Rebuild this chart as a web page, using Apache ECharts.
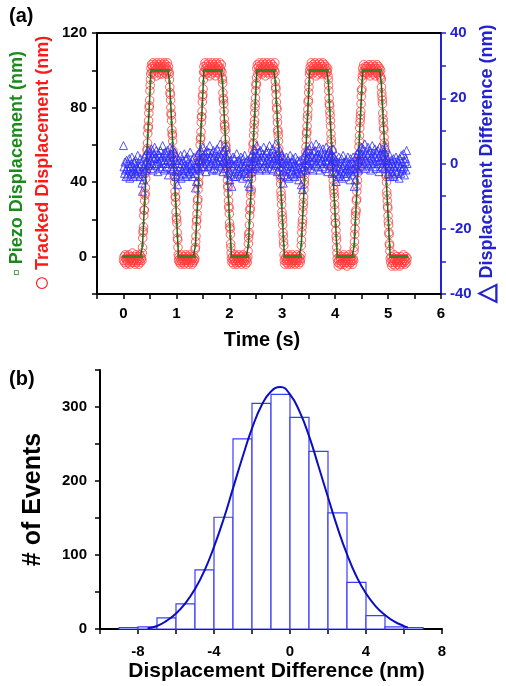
<!DOCTYPE html>
<html><head><meta charset="utf-8">
<script src="https://cdn.jsdelivr.net/npm/echarts@6/dist/echarts.min.js"></script>
<style>html,body{margin:0;padding:0;background:#fff}#chart{width:506px;height:686px}</style>
</head><body><div id="chart"></div>
<script>
// ---------- Panel (a): time series sampled every 10 ms ----------
const sampleStart = 0;
const sampleStep = 0.01;
const piezoDisplacement = [
0,0,0,0,0,0,0,0,0,0, 0,0,0,0,0,0,0,0,0,0, 0,0,0,0,0,0,0,0,0,0, 0,0,0,0,0,0,6,12,18,24,
29,35,41,47,53,59,65,71,76,82, 88,94,100,100,100,100,100,100,100,100, 100,100,100,100,100,100,100,100,100,100,
100,100,100,100,100,100,100,100,100,100, 100,100,100,100,100,100,100,94,89,83, 78,72,67,61,56,50,44,39,33,28,
22,17,11,6,0,0,0,0,0,0, 0,0,0,0,0,0,0,0,0,0, 0,0,0,0,0,0,0,0,0,0, 0,0,0,0,0,0,6,12,18,24,
29,35,41,47,53,59,65,71,76,82, 88,94,100,100,100,100,100,100,100,100, 100,100,100,100,100,100,100,100,100,100,
100,100,100,100,100,100,100,100,100,100, 100,100,100,100,100,100,100,94,89,83, 78,72,67,61,56,50,44,39,33,28,
22,17,11,6,0,0,0,0,0,0, 0,0,0,0,0,0,0,0,0,0, 0,0,0,0,0,0,0,0,0,0, 0,0,0,0,0,0,6,12,18,24,
29,35,41,47,53,59,65,71,76,82, 88,94,100,100,100,100,100,100,100,100, 100,100,100,100,100,100,100,100,100,100,
100,100,100,100,100,100,100,100,100,100, 100,100,100,100,100,100,100,94,89,83, 78,72,67,61,56,50,44,39,33,28,
22,17,11,6,0,0,0,0,0,0, 0,0,0,0,0,0,0,0,0,0, 0,0,0,0,0,0,0,0,0,0, 0,0,0,0,0,0,6,12,18,24,
29,35,41,47,53,59,65,71,76,82, 88,94,100,100,100,100,100,100,100,100, 100,100,100,100,100,100,100,100,100,100,
100,100,100,100,100,100,100,100,100,100, 100,100,100,100,100,100,100,94,89,83, 78,72,67,61,56,50,44,39,33,28,
22,17,11,6,0,0,0,0,0,0, 0,0,0,0,0,0,0,0,0,0, 0,0,0,0,0,0,0,0,0,0, 0,0,0,0,0,0,6,12,18,24,
29,35,41,47,53,59,65,71,76,82, 88,94,100,100,100,100,100,100,100,100, 100,100,100,100,100,100,100,100,100,100,
100,100,100,100,100,100,100,100,100,100, 100,100,100,100,100,100,100,94,89,83, 78,72,67,61,56,50,44,39,33,28,
22,17,11,6,0,0,0,0,0,0, 0,0,0,0,0,0,0,0,0,0, 0,0,0,0,0,0,0,0,0,0, 0,0,0,0,0,0,0
];
const trackedDisplacement = [
-2,0,-3,1,-1,-4,-2,0,-3,-1, 1,-2,-4,-1,0,-3,-2,2,-1,-3, -2,0,-4,-1,1,-3,-2,0,-1,-4, -2,1,-3,0,-1,-2,5,13,16,25,
30,34,42,46,54,58,66,70,77,81, 89,95,101,103,99,102,104,98,101,103, 100,102,97,104,101,99,103,102,98,101,
104,100,102,98,103,101,99,104,102,100, 103,98,101,104,100,102,99,95,88,84, 77,73,66,62,55,51,43,40,32,29,
21,18,10,5,-2,0,-3,-1,-4,-2, 1,-3,-1,-2,0,-4,-2,-1,1,-3, -2,0,-1,-4,-2,1,-3,-1,0,-2, -4,-1,-3,0,-2,-1,5,11,19,23,
30,36,40,48,52,60,64,72,75,83, 87,95,102,99,104,101,98,103,100,102, 99,104,101,97,103,100,102,98,104,101,
99,103,100,102,97,104,101,99,103,100, 102,98,104,101,100,103,99,95,88,84, 78,71,68,60,57,49,45,38,34,27,
23,16,12,5,-1,-3,0,-2,-4,-1, -2,1,-3,-1,-4,0,-2,-3,1,-1, -3,-2,0,-4,-1,-2,1,-3,-1,-2, 0,-4,-2,-1,-3,0,7,12,17,25,
29,35,42,47,53,60,65,71,77,82, 89,93,101,103,98,102,100,104,99,101, 103,100,98,102,104,99,101,103,97,102,
100,104,99,101,103,98,102,100,104,101, 99,103,101,98,102,100,104,94,90,83, 79,72,67,62,55,50,44,39,33,28,
22,17,11,6,-2,-4,-1,0,-3,-2, -1,-4,1,-2,-3,0,-1,-4,-2,1, -3,-1,-2,0,-4,-2,-1,-3,1,-2, -1,-4,0,-2,-3,-1,6,13,18,24,
29,36,41,46,53,59,66,70,76,83, 88,94,100,102,99,104,101,98,103,100, 102,99,104,101,97,103,100,102,98,101,
104,100,99,103,101,98,102,104,100,99, 103,101,98,102,100,99,101,95,89,82, 78,73,66,61,57,50,45,38,34,28,
21,18,11,5,-1,-3,-5,-2,0,-4, -2,-1,-4,0,-3,-2,1,-4,-1,-3, -2,0,-5,-1,-3,-2,1,-4,-1,-2, -3,0,-2,-4,-1,-2,5,12,19,24,
30,35,41,48,52,59,65,72,76,82, 89,95,101,99,103,100,98,102,101,99, 102,98,101,100,103,99,97,102,100,101,
99,103,98,101,100,102,97,101,99,103, 100,98,102,99,101,97,100,95,88,84, 77,72,68,61,56,51,44,40,33,27,
22,17,12,6,-1,-3,0,-5,-2,-4, -1,-3,1,-2,-5,-1,-3,0,-4,-2, -3,-1,-5,-2,0,-4,-1,-3,-2,1, -3,-1,-4,-2,0,-3,-1
];
// extra tracked samples taken half-way between the 10 ms samples on each ramp
const rampStart = [0.355, 0.865, 1.355, 1.865, 2.355, 2.865, 3.355, 3.865, 4.355, 4.865];
const rampTracked = [
[2,10,14,22,25,33,37,45,49,57,61,69,73,80,84,92,98],
[98,91,87,80,76,68,65,57,54,46,43,35,32,24,20,13,9,1],
[4,8,16,20,27,31,39,43,51,55,63,67,75,78,86,90,99],
[96,93,85,82,74,70,63,59,52,48,41,37,30,26,18,15,7,2],
[3,10,13,22,26,33,36,45,50,57,61,68,73,80,85,92,96],
[99,91,87,80,75,68,65,58,54,46,42,35,31,24,20,13,8,1],
[1,9,16,20,27,32,39,44,49,56,63,67,74,79,84,91,98],
[97,92,85,81,76,70,63,57,53,48,41,36,32,25,18,14,9,2],
[3,8,15,22,25,31,38,45,51,55,62,69,74,78,86,90,97],
[96,91,86,82,74,69,64,59,52,47,43,35,30,26,19,13,7,3]
];
const displacementDifference = [
5.5,-1,-3,0.5,-2,-4,1,-1.5,-3.5,0, -2,1.5,-4.5,-1,-3,0,2,-2.5,-1,-4, 0.5,-2,-3,1,-0.5,-3.5,-1.5,2.5,-2,0, -1,-4,1.5,-2.5,0,-6,-8.5,-3,-5,-1,
2,-2,0.5,3,-1.5,1,4,-0.5,2.5,0, 3.5,1,-1.5,4.5,0,2,-2,3,1.5,5, -0.5,2,4,0,1.5,-2.5,3,0.5,2.5,-1,
4,1,-1.5,2,5.5,0,3,-2,1,3.5, 0,2.5,-1,4,1,-3.5,2,0.5,5,-1.5, 3,1,-2,4.5,0,2,-1,3.5,1,-2.5,
-4,2,-6.5,0,-2,1,-3.5,-1,2.5,-4.5, 0,-2,1,-3,-1.5,3,-0.5,-4,1.5,-2, -1,2,-3.5,0.5,-2.5,-0.5,3.5,-3,0,-1.5, 1,-4,-2,2,-0.5,-3,-7.5,-1,-5.5,0,
2.5,-1.5,1,3.5,-2,0.5,4,1,-1,2, 5,0,2.5,-1,3,1.5,-2.5,4,0.5,2, -1,3.5,1,5.5,-0.5,2,0,3,-2,1.5,
4,-1.5,2.5,0,3.5,1,-2,4.5,0.5,2, -0.5,3,1,6,-1,2,0,3.5,-2.5,1, 4,0.5,-1.5,2.5,5,0,1.5,-3,3,0,
-2,-5,1,-3.5,0,-7,-1,2,-4,-0.5, 1.5,-2.5,-4,0,3,-1.5,-3,1,-2,0.5, -3.5,-1,2,-2.5,0,-4.5,1.5,-1,-3,2.5, -0.5,-2,0.5,-4,1,-1.5,-6,-3,-7,0.5,
-1,2,-2.5,3,0,1.5,-1.5,4.5,2,-0.5, 3,1,5.5,-1,2.5,0,3.5,-2,1,4, 0.5,2,-1.5,3,1,5,-0.5,2.5,0,-2,
3.5,1,4,-1,2,0.5,5.5,1.5,-1.5,3, 0,2,4.5,-2,1,3,-0.5,2.5,6,0, 1.5,-2.5,3.5,0,2,-1,4,1,-3.5,2.5,
-1,0.5,-6,-2,1.5,-3.5,0,-1.5,2,-4, -0.5,1,-2.5,-4.5,0,2.5,-1,-3,0.5,-2, 1.5,-3.5,-1,0,-4,2,-2,-0.5,-3,1, -1.5,-5,0.5,-2.5,1,-3,-6.5,-1,-8,-2,
1,-1,2.5,0,3.5,-2,1.5,4,-0.5,2, 0,4.5,1,-1.5,3,5.5,0.5,2,-2,3.5, 1,-0.5,4,2,6,0,2.5,-1,3,1.5,
5,-2,2,0.5,3.5,1,-1,4.5,2,0, 3,-1.5,1,5,0.5,2.5,-2.5,3.5,1,4, -0.5,2,0,3,-3,1.5,4.5,-1,2,0.5,
-2.5,1,-5.5,-1,-3,0.5,-4,2,-1.5,-3.5, 0,-2,1.5,-4.5,-1,2.5,-3,-0.5,0.5,-2.5, -4,1,-1.5,-3,2,-0.5,-2,0,-5,1.5, -2,-1,0.5,-3.5,2,-1.5,-7,-2.5,-5,0,
2,-1.5,3,0.5,-2,4,1,2.5,-0.5,5, 1.5,3,-1,4.5,0,2,6,1,-1.5,3.5, 0.5,2.5,5,-0.5,3,1,4,-2,2,0,
5.5,1.5,-1,3,0.5,4.5,2,-1.5,3.5,1, 0,4,2,-2.5,5,1,3,0.5,-1,2.5, 4.5,0,2,-1.5,3.5,1,5,-0.5,2,1,
-3,0,-1.5,2.5,-4,-1,1,-2.5,0,-3.5, 1.5,-1,-4,0.5,-2,2,-3,-0.5,1,-2.5, 0,-4.5,1.5,-1,-3,2.5,-2,0.5,-1.5,3, -1,-3.5,0.5,1.5,-2,4,0
];
const timeTickLabels = [0, 1, 2, 3, 4, 5, 6];
const leftTickLabels = [0, 40, 80, 120];
const rightTickLabels = [-40, -20, 0, 20, 40];

// ---------- Panel (b): histogram of displacement difference ----------
const histBinStart = [-9, -8, -7, -6, -5, -4, -3, -2, -1, 0, 1, 2, 3, 4, 5, 6];
const histBinWidth = 1;
const histCounts = [2, 3, 15, 34, 80, 151, 257, 305, 317, 286, 240, 157, 63, 18, 3, 2];
const fitX = [-7.5,-7,-6.5,-6,-5.5,-5,-4.5,-4,-3.5,-3,-2.5,-2,-1.5,-1,-0.5,0,0.5,1,1.5,2,2.5,3,3.5,4,4.5,5,5.5,6,6.2];
const fitY = [1,4,11,21,35,54,79,111,148,190,232,271,302,321,327,317,294,261,220,178,137,101,71,48,31,19,10,4,2];
const histXTickLabels = [-8, -4, 0, 4, 8];
const histYTickLabels = [0, 100, 200, 300];

// ---------- build ----------
const times = piezoDisplacement.map((_, i) => +(sampleStart + i * sampleStep).toFixed(2));
const trackedPoints = times.map((t, i) => [t, trackedDisplacement[i]]);
rampStart.forEach((s, r) => rampTracked[r].forEach((v, j) => trackedPoints.push([+(s + j * sampleStep).toFixed(3), v])));

const FONT = '"Liberation Sans", Arial, sans-serif';
const GREEN = '#1a8a1a', GREEN_LINE = '#2b5e1a', GREEN_MK = '#3d7f26', RED = '#ff3a3a', RED_TXT = '#ff1a1a';
const BLUE = '#2a2aff', BLUE_TXT = '#2222d2', HIST = '#3c3cff', FIT = '#0d0dc0';

function showOnly(list) {
  return v => list.some(x => Math.abs(x - v) < 1e-6) ? String(Math.round(v)) : '';
}
const boldLabel = (color, margin, list) => ({
  formatter: showOnly(list), fontSize: 15, fontWeight: 'bold', color: color, margin: margin, fontFamily: FONT
});

const chart = echarts.init(document.getElementById('chart'), null, {renderer: 'canvas', width: 506, height: 686});
chart.setOption({
  animation: false,
  backgroundColor: '#fff',
  textStyle: {fontFamily: FONT},
  title: [
    {text: '(a)', left: 9, top: 6, padding: 0, textStyle: {fontSize: 20, fontWeight: 'bold', color: '#000', fontFamily: FONT}},
    {text: '(b)', left: 9, top: 369, padding: 0, textStyle: {fontSize: 20, fontWeight: 'bold', color: '#000', fontFamily: FONT}}
  ],
  grid: [
    {left: 97, right: 65, top: 33, height: 261, outerBoundsMode: 'none'},
    {left: 100, right: 64, top: 370, height: 259, outerBoundsMode: 'none'}
  ],
  xAxis: [
    {gridIndex: 0, type: 'value', min: -0.5, max: 6, interval: 0.5, position: 'bottom',
     axisLine: {onZero: false, lineStyle: {color: '#000', width: 2}},
     axisTick: {length: 5, lineStyle: {color: '#000', width: 1.5}},
     axisLabel: boldLabel('#000', 12, timeTickLabels),
     splitLine: {show: false},
     name: 'Time (s)', nameLocation: 'middle', nameGap: 36, nameMoveOverlap: false,
     nameTextStyle: {fontSize: 20, fontWeight: 'bold', color: '#000', fontFamily: FONT, padding: [0, 14, 0, 0]}},
    {gridIndex: 0, type: 'value', min: -0.5, max: 6, position: 'top',
     axisLine: {onZero: false, lineStyle: {color: '#000', width: 2}},
     axisTick: {show: false}, axisLabel: {show: false}, splitLine: {show: false}},
    {gridIndex: 1, type: 'value', min: -10, max: 8, interval: 2, position: 'bottom',
     axisLine: {onZero: false, lineStyle: {color: '#000', width: 2}},
     axisTick: {length: 5, lineStyle: {color: '#000', width: 1.5}},
     axisLabel: boldLabel('#000', 15, histXTickLabels),
     splitLine: {show: false},
     name: 'Displacement Difference (nm)', nameLocation: 'middle', nameGap: 32, nameMoveOverlap: false,
     nameTextStyle: {fontSize: 21, fontWeight: 'bold', color: '#000', fontFamily: FONT, padding: [0, 0, 0, 11]}}
  ],
  yAxis: [
    {gridIndex: 0, type: 'value', min: -20, max: 120, interval: 20, position: 'left',
     axisLine: {onZero: false, lineStyle: {color: '#000', width: 2}},
     axisTick: {length: 5, lineStyle: {color: '#000', width: 1.5}},
     axisLabel: boldLabel('#000', 10, leftTickLabels),
     splitLine: {show: false},
     name: '{gs|▫} {g|Piezo Displacement (nm)}\n{rs|○} {r|Tracked Displacement (nm)}',
     nameLocation: 'middle', nameRotate: 90, nameGap: 41, nameMoveOverlap: false,
     nameTextStyle: {fontFamily: FONT, fontWeight: 'bold', fontSize: 18, lineHeight: 26,
       rich: {
         g: {color: GREEN, fontSize: 18, fontWeight: 'bold', fontFamily: FONT, lineHeight: 26},
         gs: {color: GREEN, fontSize: 19, fontWeight: 'bold', lineHeight: 26},
         r: {color: RED_TXT, fontSize: 18, fontWeight: 'bold', fontFamily: FONT, lineHeight: 26},
         rs: {color: RED_TXT, fontSize: 27, fontWeight: 'bold', lineHeight: 26}
       }}},
    {gridIndex: 0, type: 'value', min: -40, max: 40, interval: 10, position: 'right',
     axisLine: {onZero: false, lineStyle: {color: BLUE_TXT, width: 2}},
     axisTick: {length: 5, lineStyle: {color: BLUE_TXT, width: 1.5}},
     axisLabel: boldLabel(BLUE_TXT, 9, rightTickLabels),
     splitLine: {show: false},
     name: '{t|△} Displacement Difference (nm)',
     nameLocation: 'middle', nameRotate: 90, nameGap: 34, nameMoveOverlap: false,
     nameTextStyle: {color: BLUE_TXT, fontSize: 18, fontWeight: 'bold', fontFamily: FONT, lineHeight: 24,
       rich: {t: {color: BLUE_TXT, fontSize: 25, fontWeight: 'bold', lineHeight: 24}}}},
    {gridIndex: 1, type: 'value', min: 0, max: 350, interval: 50, position: 'left',
     axisLine: {onZero: false, lineStyle: {color: '#000', width: 2}},
     axisTick: {length: 5, lineStyle: {color: '#000', width: 1.5}},
     axisLabel: boldLabel('#000', 13, histYTickLabels),
     splitLine: {show: false},
     name: '# of Events', nameLocation: 'middle', nameRotate: 90, nameGap: 54, nameMoveOverlap: false,
     nameTextStyle: {fontSize: 25, fontWeight: 'bold', color: '#000', fontFamily: FONT}}
  ],
  series: [
    {type: 'scatter', name: 'Tracked Displacement', xAxisIndex: 0, yAxisIndex: 0, z: 2,
     data: trackedPoints,
     symbol: 'circle', symbolSize: 8.5,
     itemStyle: {color: 'rgba(255,255,255,0)', borderColor: RED, borderWidth: 1}},
    {type: 'line', name: 'Piezo Displacement', xAxisIndex: 0, yAxisIndex: 0, z: 3,
     data: times.map((t, i) => [t, piezoDisplacement[i]]),
     symbol: 'rect', symbolSize: 2.5, showSymbol: true,
     lineStyle: {color: GREEN_LINE, width: 1.5}, itemStyle: {color: GREEN_MK}},
    {type: 'scatter', name: 'Displacement Difference', xAxisIndex: 0, yAxisIndex: 1, z: 4,
     data: times.map((t, i) => [t, displacementDifference[i]]),
     symbol: 'triangle', symbolSize: 8,
     itemStyle: {color: 'rgba(255,255,255,0)', borderColor: BLUE, borderWidth: 1}},
    {type: 'custom', name: 'Histogram', xAxisIndex: 2, yAxisIndex: 2, z: 2,
     data: histBinStart.map((s, i) => [s, s + histBinWidth, histCounts[i]]),
     encode: {x: [0, 1], y: 2},
     renderItem: (params, api) => {
       const p0 = api.coord([api.value(0), api.value(2)]);
       const p1 = api.coord([api.value(1), 0]);
       return {type: 'rect', shape: {x: p0[0], y: p0[1], width: p1[0] - p0[0], height: p1[1] - p0[1]},
               style: {fill: '#fff', stroke: HIST, lineWidth: 1.2}};
     }},
    {type: 'line', name: 'Gaussian fit', xAxisIndex: 2, yAxisIndex: 2, z: 5,
     data: fitX.map((x, i) => [x, fitY[i]]),
     smooth: true, showSymbol: false, lineStyle: {color: FIT, width: 2}}
  ]
});
</script></body></html>
